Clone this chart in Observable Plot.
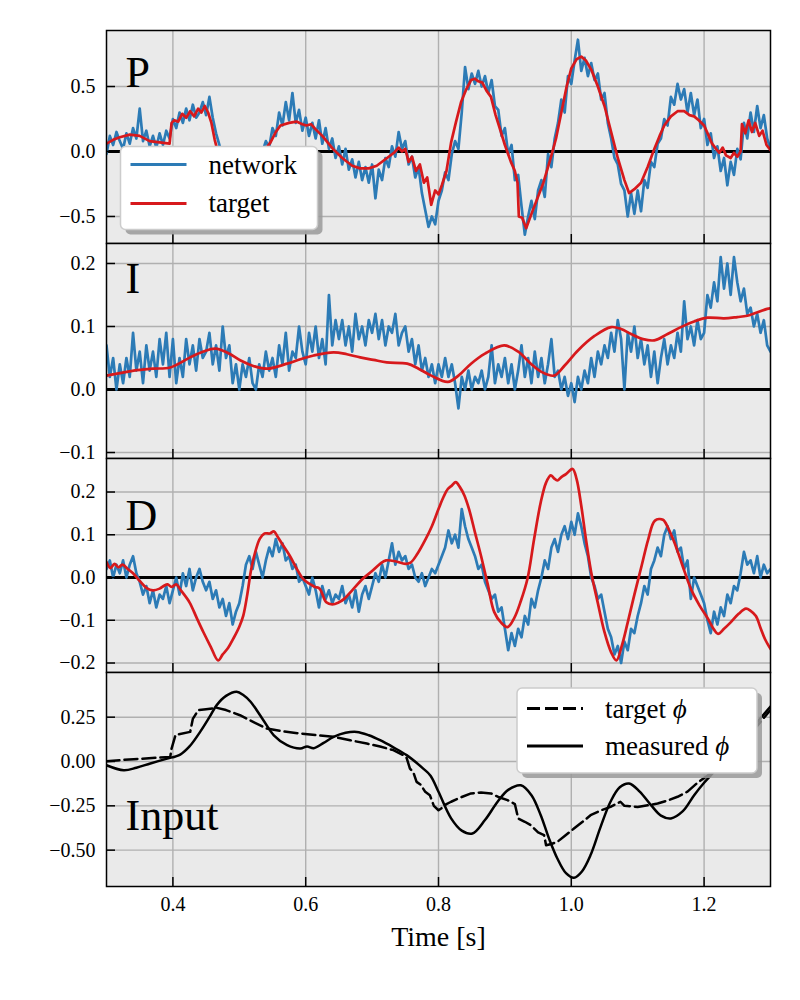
<!DOCTYPE html>
<html>
<head>
<meta charset="utf-8">
<script src="https://cdn.jsdelivr.net/npm/d3@7"></script>
<script src="https://cdn.jsdelivr.net/npm/@observablehq/plot@0.6"></script>
<style>
  html, body { margin: 0; padding: 0; background: #ffffff; }
  #chart { position: relative; width: 800px; height: 1000px; }
  #chart svg { display: block; overflow: visible; }
</style>
</head>
<body>
<div id="chart"></div>
<script>
// ---------------- data ----------------
const X_DOMAIN = [0.3, 1.3];
const X_TICKS = [0.4, 0.6, 0.8, 1.0, 1.2];
const NET_T0 = 0.3;      // network samples: start time
const NET_DT = 0.005;    // network samples: spacing

const pYTicks = [-0.5, 0, 0.5];
const iYTicks = [-0.1, 0, 0.1, 0.2];
const dYTicks = [-0.2, -0.1, 0, 0.1, 0.2];
const inYTicks = [-0.5, -0.25, 0, 0.25];

// P panel – network output (rows of 0.05 s)
const pNetwork = [
  -0.02, 0.12, 0.05, 0.15, 0.08, 0.02, 0.14, 0.06, 0.18, 0.10,
  0.33, 0.08, 0.16, 0.04, 0.12, 0.03, 0.14, 0.05, 0.16, 0.10,
  0.25, 0.18, 0.30, 0.22, 0.33, 0.24, 0.36, 0.26, 0.30, 0.38,
  0.28, 0.42, 0.26, 0.14, 0.05, -0.05, -0.12, -0.15, -0.20, -0.14,
  -0.22, -0.16, -0.12, -0.18, -0.08, -0.12, -0.02, 0.00, 0.08, 0.03,
  0.18, 0.12, 0.30, 0.20, 0.38, 0.24, 0.45, 0.22, 0.32, 0.16,
  0.26, 0.12, 0.22, 0.10, 0.24, 0.06, 0.18, 0.02, 0.10, -0.05,
  0.04, -0.10, 0.02, -0.14, -0.06, -0.20, -0.08, -0.22, -0.12, -0.24,
  -0.10, -0.36, -0.14, -0.22, -0.05, -0.12, 0.04, -0.04, 0.15, 0.02,
  0.08, -0.10, -0.04, -0.20, -0.12, -0.32, -0.45, -0.58, -0.50, -0.56,
  -0.38, -0.30, -0.16, -0.22, -0.02, 0.08, 0.02, 0.30, 0.65, 0.48,
  0.60, 0.52, 0.62, 0.50, 0.58, 0.45, 0.55, 0.35, 0.32, 0.12,
  0.18, -0.02, 0.05, -0.22, -0.18, -0.42, -0.64, -0.50, -0.38, -0.52,
  -0.30, -0.22, -0.35, -0.02, -0.12, 0.10, 0.22, 0.40, 0.30, 0.58,
  0.52, 0.70, 0.86, 0.62, 0.72, 0.58, 0.68, 0.55, 0.60, 0.40,
  0.45, 0.22, 0.10, -0.05, -0.10, -0.25, -0.30, -0.50, -0.32, -0.48,
  -0.30, -0.46, -0.22, -0.28, -0.08, -0.12, 0.06, 0.10, 0.25, 0.20,
  0.42, 0.36, 0.52, 0.40, 0.48, 0.30, 0.45, 0.28, 0.40, 0.18,
  0.25, 0.05, 0.14, -0.05, 0.04, -0.15, -0.05, -0.26, -0.08, -0.18,
  0.02, -0.06, 0.22, 0.10, 0.30, 0.15, 0.35, 0.18, 0.28, 0.10,
  0.02
];

// P panel – target [time, value]
const pTarget = [
  [0.300,0.06],[0.310,0.09],[0.320,0.11],[0.335,0.13],[0.350,0.12],[0.365,0.08],[0.380,0.07],[0.395,0.06],
  [0.398,0.22],[0.402,0.24],[0.408,0.23],[0.414,0.29],[0.420,0.26],[0.426,0.31],[0.432,0.27],[0.438,0.33],
  [0.443,0.30],[0.448,0.35],[0.453,0.30],[0.458,0.22],[0.463,0.09],[0.470,-0.05],[0.490,-0.15],[0.510,-0.15],
  [0.530,-0.05],[0.547,0.07],[0.555,0.15],[0.562,0.20],[0.575,0.22],[0.586,0.23],[0.595,0.21],[0.601,0.20],
  [0.608,0.21],[0.615,0.17],[0.625,0.12],[0.641,0.02],[0.655,-0.05],[0.670,-0.11],[0.682,-0.13],[0.695,-0.13],
  [0.707,-0.11],[0.720,-0.06],[0.733,-0.01],[0.740,0.03],[0.745,0.00],[0.750,0.02],[0.755,-0.08],[0.760,-0.04],
  [0.766,-0.15],[0.772,-0.10],[0.778,-0.24],[0.783,-0.20],[0.789,-0.41],[0.795,-0.30],[0.800,-0.33],[0.805,-0.26],
  [0.812,-0.15],[0.819,0.07],[0.826,0.22],[0.834,0.38],[0.842,0.48],[0.849,0.55],[0.855,0.56],[0.860,0.54],
  [0.866,0.53],[0.872,0.47],[0.879,0.42],[0.886,0.28],[0.894,0.15],[0.900,0.05],[0.909,-0.08],[0.915,-0.15],
  [0.919,-0.24],[0.921,-0.50],[0.926,-0.51],[0.932,-0.59],[0.940,-0.48],[0.949,-0.36],[0.958,-0.24],[0.969,-0.05],
  [0.977,0.10],[0.985,0.30],[0.993,0.50],[1.000,0.64],[1.008,0.71],[1.015,0.73],[1.022,0.70],[1.030,0.63],
  [1.040,0.50],[1.050,0.35],[1.060,0.15],[1.070,-0.05],[1.080,-0.22],[1.087,-0.32],[1.095,-0.29],[1.105,-0.24],
  [1.115,-0.12],[1.125,0.02],[1.133,0.12],[1.140,0.20],[1.150,0.27],[1.160,0.31],[1.170,0.31],[1.178,0.28],
  [1.185,0.27],[1.192,0.24],[1.200,0.20],[1.207,0.12],[1.212,0.06],[1.218,0.02],[1.223,-0.01],[1.228,0.03],
  [1.233,-0.03],[1.240,-0.05],[1.245,-0.01],[1.250,-0.04],[1.255,0.00],[1.257,0.21],[1.262,0.14],[1.267,0.24],
  [1.272,0.15],[1.277,0.22],[1.283,0.12],[1.288,0.16],[1.294,0.05],[1.300,0.01]
];

// I panel – network output
const iNetwork = [
  0.07, 0.02, 0.05, 0.00, 0.04, 0.01, 0.05, 0.02, 0.09, 0.03,
  0.06, 0.01, 0.07, 0.03, 0.06, 0.02, 0.08, 0.04, 0.09, 0.02,
  0.08, 0.01, 0.05, 0.02, 0.08, 0.04, 0.07, 0.03, 0.08, 0.05,
  0.06, 0.09, 0.04, 0.07, 0.03, 0.10, 0.05, 0.07, 0.01, 0.04,
  0.00, 0.04, 0.02, 0.05, 0.01, 0.00, 0.04, 0.02, 0.06, 0.03,
  0.05, 0.02, 0.07, 0.04, 0.09, 0.03, 0.06, 0.05, 0.10, 0.06,
  0.04, 0.09, 0.06, 0.10, 0.05, 0.08, 0.04, 0.15, 0.07, 0.11,
  0.08, 0.11, 0.07, 0.10, 0.06, 0.12, 0.08, 0.10, 0.07, 0.11,
  0.09, 0.12, 0.08, 0.11, 0.07, 0.10, 0.09, 0.12, 0.07, 0.09,
  0.10, 0.06, 0.08, 0.04, 0.07, 0.03, 0.05, 0.02, 0.04, 0.01,
  0.04, 0.02, 0.05, 0.02, 0.04, 0.01, -0.03, 0.02, 0.00, 0.03,
  0.00, 0.02, 0.01, 0.03, 0.00, 0.02, 0.07, 0.01, 0.04, 0.02,
  0.05, 0.01, 0.04, 0.00, 0.03, 0.07, 0.02, 0.05, 0.01, 0.06,
  0.02, 0.05, 0.01, 0.04, 0.08, 0.02, 0.03, 0.00, 0.02, -0.01,
  0.01, -0.02, 0.02, 0.00, 0.03, 0.01, 0.05, 0.02, 0.06, 0.04,
  0.07, 0.05, 0.09, 0.06, 0.11, 0.08, 0.00, 0.09, 0.06, 0.10,
  0.05, 0.08, 0.04, 0.07, 0.02, 0.06, 0.01, 0.05, 0.08, 0.04,
  0.07, 0.05, 0.09, 0.06, 0.14, 0.08, 0.10, 0.07, 0.11, 0.08,
  0.09, 0.15, 0.13, 0.17, 0.14, 0.21, 0.16, 0.20, 0.15, 0.21,
  0.17, 0.14, 0.16, 0.12, 0.13, 0.10, 0.12, 0.09, 0.11, 0.07,
  0.06
];

// I panel – target [time, value]
const iTarget = [
  [0.300,0.022],[0.320,0.026],[0.341,0.030],[0.370,0.033],[0.396,0.035],[0.426,0.051],[0.445,0.060],
  [0.464,0.065],[0.483,0.058],[0.502,0.046],[0.522,0.037],[0.542,0.033],[0.572,0.041],[0.592,0.048],
  [0.612,0.054],[0.642,0.059],[0.662,0.056],[0.682,0.051],[0.702,0.047],[0.722,0.043],[0.753,0.041],
  [0.770,0.033],[0.789,0.022],[0.814,0.012],[0.830,0.022],[0.849,0.041],[0.870,0.057],[0.899,0.070],
  [0.920,0.060],[0.939,0.041],[0.955,0.028],[0.974,0.022],[0.990,0.038],[1.010,0.062],[1.035,0.085],
  [1.060,0.099],[1.075,0.096],[1.090,0.088],[1.108,0.080],[1.125,0.078],[1.145,0.088],[1.165,0.099],
  [1.185,0.108],[1.205,0.114],[1.230,0.113],[1.250,0.115],[1.265,0.117],[1.295,0.128],[1.300,0.129]
];

// D panel – network output
const dNetwork = [
  0.02, 0.04, 0.00, 0.03, 0.01, 0.04, 0.00, 0.03, 0.05, 0.01,
  -0.01, -0.04, -0.02, -0.06, -0.03, -0.07, -0.04, -0.05, -0.02, -0.06,
  -0.03, 0.00, -0.04, 0.01, -0.02, 0.02, -0.03, 0.00, 0.02, -0.01,
  -0.03, -0.01, -0.05, -0.03, -0.07, -0.05, -0.09, -0.06, -0.11, -0.08,
  -0.06, -0.02, 0.03, 0.05, 0.02, 0.06, 0.03, 0.00, 0.04, 0.07,
  0.05, 0.09, 0.06, 0.08, 0.04, 0.05, 0.02, 0.03, -0.01, 0.00,
  -0.02, -0.04, 0.00, -0.03, -0.07, -0.02, -0.05, -0.03, -0.06, -0.04,
  -0.05, -0.02, -0.06, -0.04, -0.07, -0.03, -0.08, -0.04, -0.02, -0.05,
  -0.02, 0.01, -0.01, 0.03, 0.00, 0.04, 0.08, 0.03, 0.06, 0.04,
  0.05, 0.02, 0.03, 0.00, -0.01, 0.01, -0.02, 0.00, 0.02, 0.01,
  0.03, 0.05, 0.07, 0.11, 0.08, 0.10, 0.07, 0.16, 0.12, 0.09,
  0.07, 0.05, 0.02, 0.03, -0.01, -0.03, -0.05, -0.04, -0.08, -0.07,
  -0.12, -0.17, -0.13, -0.16, -0.12, -0.14, -0.09, -0.11, -0.05, -0.07,
  -0.03, 0.00, 0.04, 0.02, 0.07, 0.09, 0.06, 0.10, 0.12, 0.09,
  0.13, 0.10, 0.15, 0.12, 0.08, 0.05, 0.00, -0.02, -0.05, -0.04,
  -0.08, -0.12, -0.14, -0.18, -0.16, -0.20, -0.15, -0.17, -0.12, -0.13,
  -0.09, -0.06, -0.02, -0.04, 0.02, 0.04, 0.07, 0.05, 0.10, 0.12,
  0.09, 0.11, 0.06, 0.07, 0.02, 0.04, -0.05, 0.00, -0.02, -0.04,
  -0.06, -0.10, -0.13, -0.08, -0.11, -0.07, -0.09, -0.04, -0.06, -0.02,
  -0.03, 0.01, 0.06, 0.03, 0.04, 0.01, 0.05, 0.00, 0.03, 0.01,
  0.02
];

// D panel – target [time, value]
const dTarget = [
  [0.300,0.036],[0.306,0.022],[0.312,0.032],[0.318,0.024],[0.324,0.030],[0.332,0.020],[0.340,0.010],
  [0.350,-0.008],[0.360,-0.024],[0.370,-0.030],[0.380,-0.026],[0.386,-0.020],[0.392,-0.016],[0.398,-0.022],
  [0.405,-0.016],[0.412,-0.030],[0.425,-0.058],[0.436,-0.095],[0.446,-0.128],[0.457,-0.162],[0.468,-0.194],
  [0.475,-0.180],[0.483,-0.165],[0.491,-0.143],[0.500,-0.115],[0.506,-0.089],[0.512,-0.040],[0.518,0.020],
  [0.525,0.065],[0.531,0.091],[0.538,0.103],[0.546,0.103],[0.552,0.108],[0.558,0.095],[0.566,0.075],
  [0.576,0.051],[0.586,0.022],[0.596,-0.003],[0.606,-0.015],[0.614,-0.022],[0.621,-0.026],[0.631,-0.058],
  [0.640,-0.063],[0.650,-0.058],[0.658,-0.050],[0.670,-0.030],[0.686,-0.003],[0.700,0.015],[0.712,0.032],
  [0.721,0.040],[0.735,0.038],[0.750,0.032],[0.758,0.035],[0.768,0.055],[0.781,0.091],[0.790,0.120],
  [0.800,0.160],[0.808,0.190],[0.814,0.207],[0.820,0.215],[0.826,0.223],[0.832,0.212],[0.839,0.192],
  [0.846,0.160],[0.855,0.105],[0.864,0.051],[0.874,-0.015],[0.884,-0.081],[0.894,-0.105],[0.904,-0.116],
  [0.914,-0.095],[0.924,-0.055],[0.934,-0.003],[0.944,0.090],[0.954,0.176],[0.962,0.222],[0.969,0.239],
  [0.974,0.232],[0.979,0.227],[0.985,0.235],[0.992,0.242],[1.002,0.254],[1.008,0.230],[1.015,0.168],
  [1.022,0.090],[1.030,0.012],[1.040,-0.060],[1.050,-0.128],[1.060,-0.175],[1.068,-0.194],[1.076,-0.160],
  [1.085,-0.105],[1.095,-0.040],[1.106,0.028],[1.116,0.090],[1.126,0.133],[1.138,0.135],[1.146,0.115],
  [1.155,0.083],[1.167,0.030],[1.180,-0.026],[1.193,-0.065],[1.206,-0.097],[1.215,-0.122],[1.221,-0.132],
  [1.230,-0.120],[1.240,-0.105],[1.252,-0.085],[1.263,-0.073],[1.270,-0.078],[1.278,-0.090],[1.285,-0.118],
  [1.292,-0.145],[1.300,-0.167]
];

// Input panel – measured phi [time, value]
const phiMeasured = [
  [0.300,-0.021],[0.326,-0.049],[0.345,-0.035],[0.366,-0.011],[0.390,0.015],[0.411,0.039],[0.425,0.085],
  [0.441,0.167],[0.455,0.250],[0.466,0.318],[0.480,0.370],[0.496,0.393],[0.506,0.375],[0.517,0.337],
  [0.535,0.240],[0.552,0.148],[0.572,0.092],[0.592,0.073],[0.602,0.085],[0.612,0.075],[0.627,0.105],
  [0.642,0.139],[0.660,0.162],[0.677,0.167],[0.695,0.148],[0.712,0.120],[0.732,0.080],[0.752,0.036],
  [0.777,-0.040],[0.788,-0.080],[0.800,-0.171],[0.819,-0.321],[0.835,-0.390],[0.851,-0.406],[0.870,-0.330],
  [0.889,-0.227],[0.905,-0.160],[0.924,-0.134],[0.940,-0.190],[0.954,-0.303],[0.966,-0.430],[0.979,-0.547],
  [0.992,-0.630],[1.004,-0.656],[1.016,-0.620],[1.029,-0.528],[1.044,-0.370],[1.059,-0.227],[1.073,-0.145],
  [1.087,-0.124],[1.103,-0.170],[1.120,-0.246],[1.135,-0.305],[1.150,-0.321],[1.168,-0.280],[1.185,-0.190],
  [1.200,-0.120],[1.215,-0.058],[1.235,0.030],[1.255,0.110],[1.275,0.200],[1.300,0.310]
];

// Input panel – target phi [time, value]
const phiTarget = [
  [0.300,0.002],[0.341,0.013],[0.396,0.026],[0.398,0.073],[0.404,0.150],[0.426,0.167],[0.430,0.240],
  [0.438,0.289],[0.450,0.295],[0.466,0.303],[0.480,0.290],[0.501,0.261],[0.520,0.225],[0.541,0.186],
  [0.566,0.170],[0.591,0.158],[0.617,0.148],[0.642,0.139],[0.667,0.120],[0.692,0.101],[0.712,0.085],
  [0.732,0.064],[0.747,0.036],[0.752,0.020],[0.757,-0.040],[0.762,-0.060],[0.767,-0.115],[0.773,-0.130],
  [0.780,-0.171],[0.787,-0.190],[0.793,-0.250],[0.800,-0.275],[0.804,-0.265],[0.812,-0.240],[0.819,-0.227],
  [0.835,-0.200],[0.849,-0.180],[0.864,-0.175],[0.879,-0.180],[0.890,-0.200],[0.904,-0.218],[0.915,-0.240],
  [0.920,-0.321],[0.930,-0.340],[0.939,-0.359],[0.950,-0.400],[0.959,-0.415],[0.962,-0.472],[0.970,-0.465],
  [0.979,-0.453],[0.990,-0.420],[1.004,-0.378],[1.017,-0.340],[1.029,-0.303],[1.045,-0.275],[1.059,-0.256],
  [1.074,-0.227],[1.080,-0.250],[1.100,-0.256],[1.115,-0.247],[1.130,-0.237],[1.145,-0.220],[1.160,-0.199],
  [1.175,-0.170],[1.190,-0.120],[1.205,-0.080],[1.225,-0.020],[1.250,0.080],[1.275,0.180],[1.300,0.290]
];

// ---------------- drawing ----------------
const SERIF = "'Liberation Serif', 'DejaVu Serif', serif";
const BLUE = "#2c7bb6";
const RED = "#d7191c";
const GRID = "#b0b0b0";
const BG = "#eaeaea";
const ML = 106, MR = 30, W = 800;

const netRows = arr => arr.map((v, i) => ({t: NET_T0 + i * NET_DT, v}));
const pairRows = arr => arr.map(([t, v]) => ({t, v}));

function panel({height, marginTop = 0, marginBottom = 0, yDomain, yTicks, yFmt, dataMarks, label, labelDy, showX}) {
  const plotW = W - ML - MR;
  const plotH = height - marginTop - marginBottom;
  return Plot.plot({
    width: W, height,
    marginLeft: ML, marginRight: MR, marginTop, marginBottom,
    style: {background: "transparent", overflow: "visible", fontFamily: SERIF, color: "black"},
    x: {domain: X_DOMAIN, axis: null},
    y: {domain: yDomain, axis: null},
    marks: [
      Plot.frame({fill: BG, stroke: "none"}),
      Plot.ruleX(X_TICKS, {stroke: GRID, strokeWidth: 1.4}),
      Plot.ruleY(yTicks, {stroke: GRID, strokeWidth: 1.4}),
      ...dataMarks,
      Plot.frame({stroke: "black", strokeWidth: 1.5, fill: "none"}),
      Plot.tickY(yTicks, {y: d => d, stroke: "black", strokeWidth: 1.5, insetRight: plotW - 9}),
      Plot.tickX(X_TICKS, {x: d => d, stroke: "black", strokeWidth: 1.5, insetTop: plotH - 9}),
      Plot.axisY(yTicks, {anchor: "left", tickSize: 0, tickPadding: 11, tickFormat: d3.format(yFmt), fontSize: 20, label: null}),
      showX ? Plot.axisX(X_TICKS, {anchor: "bottom", tickSize: 0, tickPadding: 10, tickFormat: d3.format(".1f"), fontSize: 20, label: null}) : null,
      showX ? Plot.text(["Time [s]"], {text: d => d, frameAnchor: "bottom", textAnchor: "middle", lineAnchor: "bottom", dy: 59, fontSize: 28}) : null,
      Plot.text([label], {text: d => d, frameAnchor: "top-left", textAnchor: "start", lineAnchor: "top", dx: 19, dy: labelDy, fontSize: 44})
    ].filter(Boolean)
  });
}

const netLine = (arr) => Plot.line(netRows(arr), {x: "t", y: "v", stroke: BLUE, strokeWidth: 2.7, strokeLinejoin: "round", clip: true});
const tgtLine = (arr, curve = "linear") => Plot.line(pairRows(arr), {x: "t", y: "v", stroke: RED, strokeWidth: 2.7, strokeLinejoin: "round", curve, clip: true});
const zeroLine = () => Plot.ruleY([0], {stroke: "black", strokeWidth: 3});

const chart = document.getElementById("chart");

const svgP = panel({
  height: 243, marginTop: 30, yDomain: [-0.708, 0.931], yTicks: pYTicks, yFmt: ".1f",
  dataMarks: [zeroLine(), netLine(pNetwork), tgtLine(pTarget)],
  label: "P", labelDy: 25
});
const svgI = panel({
  height: 215, yDomain: [-0.1095, 0.2317], yTicks: iYTicks, yFmt: ".1f",
  dataMarks: [zeroLine(), netLine(iNetwork), tgtLine(iTarget, "catmull-rom")],
  label: "I", labelDy: 18
});
const svgD = panel({
  height: 214, yDomain: [-0.2222, 0.2784], yTicks: dYTicks, yFmt: ".1f",
  dataMarks: [zeroLine(), netLine(dNetwork), tgtLine(dTarget, "catmull-rom")],
  label: "D", labelDy: 40
});
const svgIn = panel({
  height: 328, marginBottom: 114, yDomain: [-0.705, 0.502], yTicks: inYTicks, yFmt: ".2f",
  dataMarks: [
    Plot.line(pairRows(phiTarget), {x: "t", y: "v", stroke: "black", strokeWidth: 2.5, strokeDasharray: "13,5", clip: true}),
    Plot.line(pairRows(phiMeasured), {x: "t", y: "v", stroke: "black", strokeWidth: 2.5, curve: "catmull-rom", clip: true})
  ],
  label: "Input", labelDy: 126, showX: true
});

[svgP, svgI, svgD, svgIn].forEach(s => chart.appendChild(s));

// legends (matplotlib-style boxes with shadow)
function legend(svg, {x, y, w, h, items}) {
  const g = d3.select(svg).append("g").attr("font-family", SERIF).attr("text-anchor", "start");
  g.append("rect").attr("x", x + 5).attr("y", y + 5).attr("width", w).attr("height", h)
    .attr("rx", 5).attr("fill", "#9a9a9a").attr("opacity", 0.85);
  g.append("rect").attr("x", x).attr("y", y).attr("width", w).attr("height", h)
    .attr("rx", 5).attr("fill", "white").attr("stroke", "#cccccc").attr("stroke-width", 1.5);
  items.forEach(it => {
    g.append("line").attr("x1", x + 10).attr("x2", x + 66).attr("y1", it.ly).attr("y2", it.ly)
      .attr("stroke", it.color).attr("stroke-width", 3).attr("stroke-dasharray", it.dash || null);
    const t = g.append("text").attr("x", x + 88).attr("y", it.ty).attr("font-size", 27)
      .attr("fill", "black").attr("text-anchor", "start");
    t.append("tspan").text(it.label);
    if (it.sym) {
      t.append("tspan").text(" ");
      t.append("tspan").attr("font-style", "italic").text(it.sym);
    }
  });
}

legend(svgP, {
  x: 120.5, y: 146.5, w: 197, h: 83,
  items: [
    {label: "network", color: BLUE, ly: 164.5, ty: 174},
    {label: "target", color: RED, ly: 203.5, ty: 212}
  ]
});
legend(svgIn, {
  x: 517, y: 16, w: 240, h: 85,
  items: [
    {label: "target", sym: "\u03D5", color: "black", dash: "13,5", ly: 36.5, ty: 46},
    {label: "measured", sym: "\u03D5", color: "black", ly: 74, ty: 83}
  ]
});
</script>
</body>
</html>
